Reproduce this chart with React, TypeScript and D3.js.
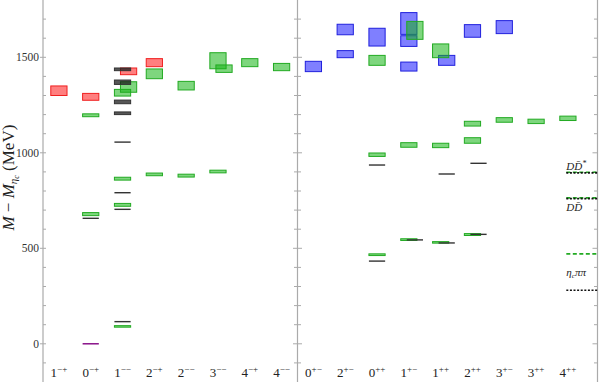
import React from 'react';
import * as d3 from 'd3';

const width = 599;
const height = 382;
const axisLeftX = 43;
const splitX = 297.5;
const axisRightX = 597.5;

const leftCats = ['1-+', '0-+', '1--', '2-+', '2--', '3--', '4-+', '4--'];
const rightCats = ['0+-', '2+-', '0++', '1+-', '1++', '2++', '3+-', '3++', '4++'];

// [J^PC, low, high, shifted]
const redStates: [string, number, number, number][] = [
  ['1-+', 1300, 1350, 0],
  ['0-+', 1275, 1311, 0],
  ['1--', 1409, 1444, 1],
  ['2-+', 1451, 1493, 0],
];

const blueStates: [string, number, number, number][] = [
  ['0+-', 1425, 1479, 0],
  ['2+-', 1618, 1673, 0],
  ['2+-', 1498, 1535, 0],
  ['0++', 1559, 1652, 0],
  ['1+-', 1620, 1734, 0],
  ['1+-', 1557, 1613, 0],
  ['1+-', 1428, 1475, 0],
  ['1++', 1458, 1510, 1],
  ['2++', 1605, 1671, 0],
  ['3+-', 1624, 1692, 0],
];

const greenStates: [string, number, number, number][] = [
  ['0-+', 1189, 1204, 0],
  ['0-+', 671, 687, 0],
  ['1--', 1297, 1332, 0],
  ['1--', 1317, 1372, 1],
  ['1--', 857, 872, 0],
  ['1--', 720, 735, 0],
  ['1--', 87, 95, 0],
  ['2-+', 1388, 1439, 0],
  ['2-+', 880, 894, 0],
  ['2--', 1329, 1374, 0],
  ['2--', 873, 888, 0],
  ['3--', 1440, 1524, 0],
  ['3--', 1421, 1460, 1],
  ['3--', 895, 909, 0],
  ['4-+', 1451, 1493, 0],
  ['4--', 1430, 1468, 0],
  ['0++', 1458, 1510, 0],
  ['0++', 981, 999, 0],
  ['0++', 462, 471, 0],
  ['1+-', 1594, 1688, 1],
  ['1+-', 1029, 1053, 0],
  ['1+-', 541, 550, 0],
  ['1++', 1498, 1570, 0],
  ['1++', 1027, 1050, 0],
  ['1++', 527, 535, 0],
  ['2++', 1140, 1165, 0],
  ['2++', 1050, 1079, 0],
  ['2++', 567, 577, 0],
  ['3+-', 1160, 1184, 0],
  ['3++', 1153, 1176, 0],
  ['4++', 1169, 1192, 0],
];

const blackStates: [string, number, number, number][] = [
  ['0-+', 657, 657, 0],
  ['1--', 1430, 1444, 0],
  ['1--', 1358, 1381, 0],
  ['1--', 1257, 1276, 0],
  ['1--', 1200, 1214, 0],
  ['1--', 1056, 1056, 0],
  ['1--', 791, 791, 0],
  ['1--', 704, 704, 0],
  ['1--', 116, 116, 0],
  ['0++', 936, 936, 0],
  ['0++', 433, 433, 0],
  ['1+-', 544, 544, 1],
  ['1++', 889, 889, 1],
  ['1++', 528, 528, 1],
  ['2++', 945, 945, 1],
  ['2++', 573, 573, 1],
];

const purpleStates: [string, number, number, number][] = [['0-+', 0, 0, 0]];

const thresholdNames = ['DD*', 'DD', 'ηcππ'];
const thresholdPhys = [895, 760, 280];
const thresholdLat = [898, 764, 471];

const yTicks = d3.range(-100, 1800, 100);
const yLabels = [0, 500, 1000, 1500];

const styles: Record<string, { fill: string; stroke: string }> = {
  red: { fill: 'rgba(255,0,0,0.5)', stroke: '#f02020' },
  blue: { fill: 'rgba(0,0,255,0.5)', stroke: '#2020dd' },
  green: { fill: 'rgba(20,180,20,0.55)', stroke: '#22aa22' },
  black: { fill: 'rgba(30,30,30,0.75)', stroke: '#333' },
  purple: { fill: 'rgba(128,0,128,0.8)', stroke: '#800080' },
};

const font = '"Liberation Serif", "DejaVu Serif", serif';

const CatLabel = ({ cat, x, y }: { cat: string; x: number; y: number }) => (
  <text x={x} y={y} textAnchor="middle" fontFamily={font} fontSize={13} fill="#222">
    {cat[0]}
    <tspan dy={-5} fontSize={9}>{cat.slice(1).replace(/-/g, '−')}</tspan>
  </text>
);

const App = () => {
  const yScale = d3.scaleLinear().domain([-200, 1800]).range([height, 0]);
  const xLeft = d3.scaleBand().domain(leftCats).range([axisLeftX, splitX]);
  const step = xLeft.step();
  const xRight = d3.scaleBand().domain(rightCats).range([splitX, splitX + step * rightCats.length]);
  const boxW = step * 0.51;
  const shiftW = step * 0.19;

  const xOf = (cat: string, shift: number) => {
    const sc = leftCats.includes(cat) ? xLeft : xRight;
    return (sc(cat) as number) + (sc.bandwidth() - boxW) / 2 + shift * shiftW;
  };

  const drawStates = (list: [string, number, number, number][], key: string) =>
    list.map(([cat, lo, hi, shift], i) => {
      const x = xOf(cat, shift);
      const st = styles[key];
      if (lo === hi) {
        return (
          <line key={key + i} x1={x} x2={x + boxW} y1={yScale(lo)} y2={yScale(lo)}
            stroke={st.stroke} strokeWidth={1.4} />
        );
      }
      const y1 = yScale(hi);
      const h = Math.max(yScale(lo) - y1, 1.5);
      return (
        <rect key={key + i} x={x} y={y1} width={boxW} height={h}
          fill={st.fill} stroke={st.stroke} strokeWidth={1} />
      );
    });

  const thrX1 = (xRight('4++') as number) + xRight.bandwidth() * 0.45;
  const labelDy = [-3, 12, -14];

  return (
    <svg width={width} height={height} style={{ position: 'absolute', left: 0, top: 0 }}>
      <rect width={width} height={height} fill="#fff" />

      {[axisLeftX, splitX, axisRightX].map((x) => (
        <line key={'ax' + x} x1={x} x2={x} y1={0} y2={height} stroke="#aaa" strokeWidth={1.2} />
      ))}
      {yTicks.map((t) => {
        const y = yScale(t);
        const major = t % 500 === 0;
        return (
          <g key={'t' + t} stroke="#aaa" strokeWidth={1}>
            <line x1={axisLeftX - (major ? 3 : 0)} x2={axisLeftX + 3} y1={y} y2={y} />
            <line x1={splitX - (major ? 4.5 : 3.5)} x2={splitX + (major ? 4.5 : 3.5)} y1={y} y2={y} />
            <line x1={axisRightX - (major ? 5 : 3.5)} x2={axisRightX} y1={y} y2={y} />
          </g>
        );
      })}
      {yLabels.map((t) => (
        <text key={'l' + t} x={axisLeftX - 4} y={yScale(t) + 4} textAnchor="end"
          fontFamily={font} fontSize={11.5} fill="#333">{t}</text>
      ))}

      <text transform={`translate(14,${yScale(870)}) rotate(-90)`} textAnchor="middle"
        fontFamily={font} fontSize={17} fill="#222">
        <tspan fontStyle="italic">M</tspan>
        <tspan> − </tspan>
        <tspan fontStyle="italic">M</tspan>
        <tspan fontStyle="italic" fontSize={11} dy={3}>η</tspan>
        <tspan fontStyle="italic" fontSize={8} dy={2}>c</tspan>
        <tspan dy={-5}> (MeV)</tspan>
      </text>

      {drawStates(redStates, 'red')}
      {drawStates(blueStates, 'blue')}
      {drawStates(greenStates, 'green')}
      {drawStates(blackStates, 'black')}
      {drawStates(purpleStates, 'purple')}

      {thresholdNames.map((name, i) => (
        <g key={'th' + i}>
          <line x1={thrX1} x2={axisRightX} y1={yScale(thresholdLat[i])} y2={yScale(thresholdLat[i])}
            stroke="#22aa22" strokeWidth={1.6} strokeDasharray="4,2.5" />
          <line x1={thrX1} x2={axisRightX} y1={yScale(thresholdPhys[i])} y2={yScale(thresholdPhys[i])}
            stroke="#111" strokeWidth={1.6} strokeDasharray="2,1.6" />
          <text x={thrX1} y={yScale(thresholdPhys[i]) + labelDy[i]}
            fontFamily={font} fontSize={11} fontStyle="italic" fill="#222">
            {name === 'ηcππ' ? (
              <>η<tspan fontSize={7} dy={2}>c</tspan><tspan dy={-2}>ππ</tspan></>
            ) : (
              <>D{'D\u0304'}{name.endsWith('*') ? <tspan fontSize={8} dy={-4}>*</tspan> : null}</>
            )}
          </text>
        </g>
      ))}

      {leftCats.map((c) => (
        <CatLabel key={c} cat={c} x={(xLeft(c) as number) + xLeft.bandwidth() / 2} y={377} />
      ))}
      {rightCats.map((c) => (
        <CatLabel key={c} cat={c} x={(xRight(c) as number) + xRight.bandwidth() / 2} y={377} />
      ))}
    </svg>
  );
};

export default App;
